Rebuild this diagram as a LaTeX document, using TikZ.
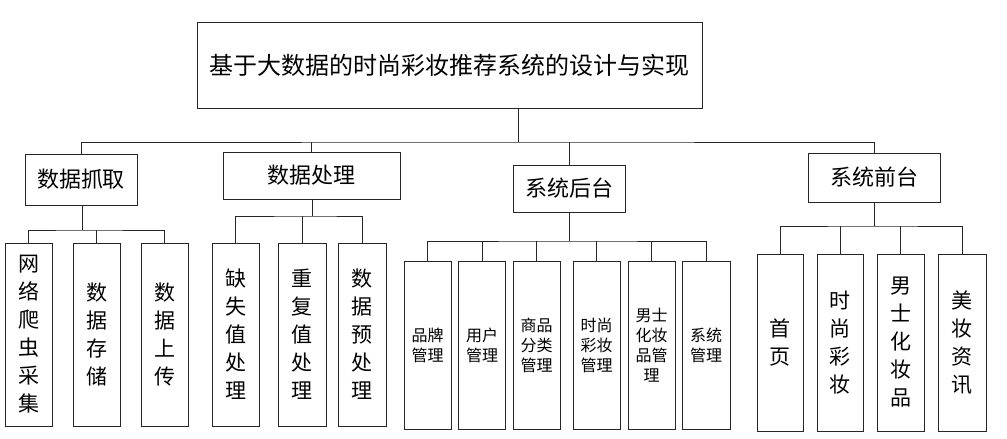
\documentclass[tikz,border=0pt]{standalone}
\usepackage{fontspec}
\setmainfont{Noto Sans CJK SC}
\begin{document}
\begin{tikzpicture}[x=1pt,y=-1pt,
  box/.style={draw=black!85, line width=1pt, inner sep=0pt, align=center, fill=white},
  lnk/.style={draw=black!85, line width=1pt},
  titlef/.style={font=\fontsize{24}{28}\selectfont},
  midf/.style={font=\fontsize{22}{26}\selectfont},
  leaf/.style={font=\fontsize{21}{28}\selectfont, minimum width=47pt, minimum height=183pt},
  dleaf/.style={font=\fontsize{21}{28}\selectfont, minimum width=47pt, minimum height=177pt},
  sleaf/.style={font=\fontsize{16}{20}\selectfont, minimum width=47pt, minimum height=168pt}]
\useasboundingbox (0,0) rectangle (1007,439);
\fill[white] (0,0) rectangle (1007,439);

% top
\node[box,titlef,minimum width=505pt,minimum height=86pt] (top) at (449.5,65) {基于大数据的时尚彩妆推荐系统的设计与实现};

% level 2
\node[box,midf,minimum width=112pt,minimum height=51pt] (A) at (81,179.5) {数据抓取};
\node[box,midf,minimum width=177pt,minimum height=47pt] (B) at (311.5,175.5) {数据处理};
\node[box,midf,minimum width=112pt,minimum height=47pt] (C) at (569,188.5) {系统后台};
\node[box,midf,minimum width=132pt,minimum height=49pt] (D) at (874,177.5) {系统前台};

% leaves A
\node[box,leaf] (A1) at (28.5,334.5) {网\\络\\爬\\虫\\采\\集};
\node[box,leaf] (A2) at (96.5,334.5) {数\\据\\存\\储};
\node[box,leaf] (A3) at (164.5,334.5) {数\\据\\上\\传};

% leaves B
\node[box,leaf] (B1) at (235.5,334.5) {缺\\失\\值\\处\\理};
\node[box,leaf,minimum width=48pt] (B2) at (302,334.5) {重\\复\\值\\处\\理};
\node[box,leaf,minimum width=48pt] (B3) at (362,334.5) {数\\据\\预\\处\\理};

% leaves C
\node[box,sleaf] (C1) at (427.5,345) {品牌\\管理};
\node[box,sleaf] (C2) at (482,345) {用户\\管理};
\node[box,sleaf] (C3) at (536.5,345) {商品\\分类\\管理};
\node[box,sleaf] (C4) at (596.5,345) {时尚\\彩妆\\管理};
\node[box,sleaf] (C5) at (651.5,345) {男士\\化妆\\品管\\理};
\node[box,sleaf,minimum width=48pt] (C6) at (706,345) {系统\\管理};

% leaves D
\node[box,dleaf,minimum width=46pt] (D1) at (780,342.5) {首\\页};
\node[box,dleaf,minimum width=46pt] (D2) at (840,342.5) {时\\尚\\彩\\妆};
\node[box,dleaf] (D3) at (900.5,342.5) {男\\士\\化\\妆\\品};
\node[box,dleaf,minimum width=48pt] (D4) at (962,342.5) {美\\妆\\资\\讯};

% junctions
\coordinate (j0) at (518,142);
\coordinate (ja) at (82,230);
\coordinate (jb) at (312,216);
\coordinate (jc) at (569,241);
\coordinate (jd) at (874,226);

% top connectors
\draw[lnk] (top.south -| j0) -- (j0);
\draw[lnk] (A.north) |- (j0) -| (D.north);
\draw[lnk] (B.north) -- (B.north |- j0);
\draw[lnk] (C.north) -- (C.north |- j0);

% A
\draw[lnk] (A.south -| ja) -- (ja);
\draw[lnk] (A1.north) |- (ja) -| (A3.north);
\draw[lnk] (A2.north) -- (A2.north |- ja);

% B
\draw[lnk] (B.south -| jb) -- (jb);
\draw[lnk] (B1.north) |- (jb) -| (B3.north);
\draw[lnk] (B2.north) -- (B2.north |- jb);

% C
\draw[lnk] (C.south) -- (jc);
\draw[lnk] (C1.north) |- (jc) -| (C6.north);
\foreach \n in {C2,C3,C4,C5} \draw[lnk] (\n.north) -- (\n.north |- jc);

% D
\draw[lnk] (D.south) -- (jd);
\draw[lnk] (D1.north) |- (jd) -| (D4.north);
\foreach \n in {D2,D3} \draw[lnk] (\n.north) -- (\n.north |- jd);
\end{tikzpicture}
\end{document}
